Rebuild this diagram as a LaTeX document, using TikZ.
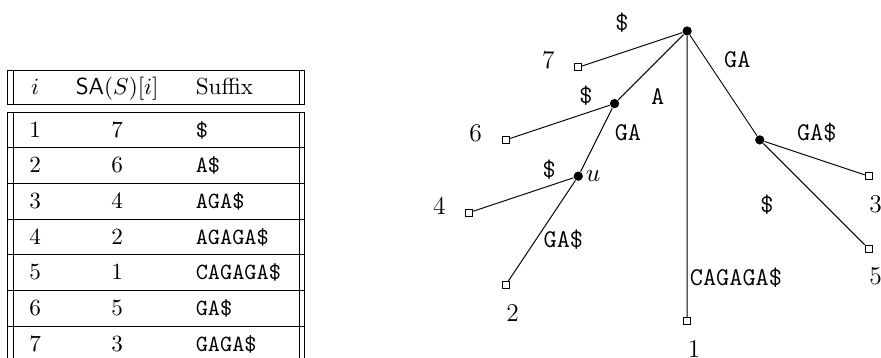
\documentclass[tikz,border=0pt]{standalone}
\usepackage{amsmath}
\usepackage{amssymb}
\usepackage{tikz}
\usetikzlibrary{positioning}
\tikzset{branch/.style={circle,fill,inner sep=0pt,minimum size=4pt},
  leaf/.style={draw,rectangle,fill=white,inner sep=0pt,minimum size=3pt},
  edgelab/.style={font=\fontsize{11}{13}\selectfont\ttfamily,inner sep=1pt},
  leafnum/.style={font=\fontsize{11}{13}\selectfont,inner sep=1pt,on grid},
  cell/.style={inner sep=0pt,anchor=base}}

\begin{document}
\begin{tikzpicture}[x=0.55cm,y=0.55cm,line width=0.4pt]
		\useasboundingbox (-18.93,0.854) rectangle (5.34,-9.008);
		% suffix array table
		\draw (-18.73,-1.074) rectangle (-10.54,-2.011);
		\draw (-18.57,-1.074) -- (-18.57,-2.011) (-10.69,-1.074) -- (-10.69,-2.011);
		\draw (-18.73,-2.231) rectangle (-10.54,-9.109);
		\draw (-18.57,-2.231) -- (-18.57,-9.109) (-10.69,-2.231) -- (-10.69,-9.109);
		\foreach \r in {1,...,6}
			\draw (-18.73,{-2.231-0.9826*\r}) -- (-10.54,{-2.231-0.9826*\r});
		\node[cell] (hi)   at (-17.96,-1.763) {$i$};
		\node[cell] (hsa)  at (-15.70,-1.763) {$\textsf{SA}(S)[i]$};
		\node[cell, anchor=base west] (hsuf) at (-13.55,-1.763) {Suffix};
		\foreach \sa/\suf [count=\r] in {7/\$,6/A\$,4/AGA\$,2/AGAGA\$,1/CAGAGA\$,5/GA\$,3/GAGA\$} {
			\node[cell] (i\r)  at (-17.96,{-2.929-0.9826*(\r-1)}) {\r};
			\node[cell] (sa\r) at (-15.70,{-2.929-0.9826*(\r-1)}) {\sa};
			\node[cell, anchor=base west] (suf\r) at (-13.55,{-2.929-0.9826*(\r-1)}) {\texttt{\suf}};
		}

		% suffix tree
		\node[branch] (root) at (0,0) {};
		\node[leaf]   (l7)   at (-3,-1) {};
		\node[branch] (a)    at (-2,-2) {};
		\node[leaf]   (l6)   at (-5,-3) {};
		\node[branch] (u)    at (-3,-4) {};
		\node[leaf]   (l4)   at (-6,-5) {};
		\node[leaf]   (l2)   at (-5,-7) {};
		\node[leaf]   (l1)   at (0,-8) {};
		\node[branch] (ga)   at (2,-3) {};
		\node[leaf]   (l3)   at (5,-4) {};
		\node[leaf]   (l5)   at (5,-6) {};
		\draw (root) -- (l7) (root) -- (a) (root) -- (l1) (root) -- (ga)
			(a) -- (l6) (a) -- (u) (u) -- (l4) (u) -- (l2)
			(ga) -- (l3) (ga) -- (l5);

		\node[edgelab] (lab7)  at (-1.80,0.23)  {\$};
		\node[edgelab] (laba)  at (-0.81,-1.81) {A};
		\node[edgelab] (lab6)  at (-2.79,-1.79) {\$};
		\node[edgelab] (labu)  at (-1.63,-2.81) {GA};
		\node[edgelab] (labga) at (1.38,-0.80)  {GA};
		\node[edgelab] (lab3)  at (3.57,-2.79)  {GA\$};
		\node[edgelab] (lab4)  at (-3.80,-3.81) {\$};
		\node[edgelab] (lab2)  at (-3.41,-5.76) {GA\$};
		\node[edgelab] (lab5)  at (2.20,-4.79)  {\$};
		\node[edgelab, anchor=west] (lab1) at (0,-6.80) {CAGAGA\$};
		\node[leafnum] (ulab)  at (-2.59,-3.99) {$u$};

		\node[leafnum, above left=3pt and 12.9pt of l7] (n7) {7};
		\node[leafnum, above left=3pt and 12.9pt of l6] (n6) {6};
		\node[leafnum, above left=3pt and 12.9pt of l4] (n4) {4};
		\node[leafnum, below right=12pt and 3pt of l2] (n2) {2};
		\node[leafnum, below right=12pt and 3pt of l1] (n1) {1};
		\node[leafnum, below right=12pt and 3pt of l3] (n3) {3};
		\node[leafnum, below right=12pt and 3pt of l5] (n5) {5};
	\end{tikzpicture}
\end{document}
